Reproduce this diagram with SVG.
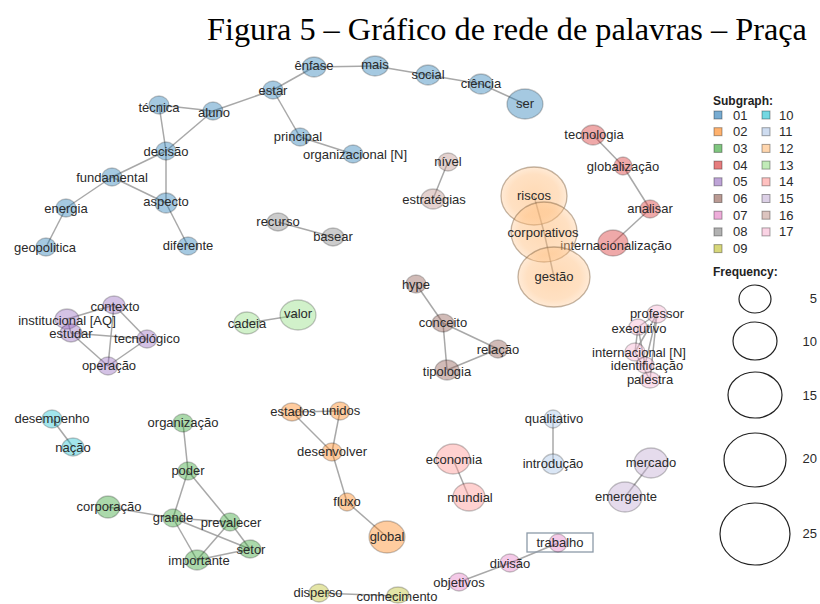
<svg xmlns="http://www.w3.org/2000/svg" width="820" height="604" viewBox="0 0 820 604">
<style>
.n ellipse{stroke:#000;stroke-opacity:.22;stroke-width:1.3}
.n text,.lg text{font-family:"Liberation Sans",Arial,sans-serif;font-size:13px;fill:#2a2a2a;text-anchor:middle}
.lg text{text-anchor:start}
.lg text.h{font-weight:bold;font-size:12px;fill:#222}
.lg text.f{text-anchor:end}
.lg rect{stroke:#000;stroke-opacity:.35;stroke-width:1}
.lg ellipse{fill:none;stroke:#222;stroke-width:1.2}
.edges line{stroke:#999;stroke-width:1.5;stroke-opacity:.85}
.title{font-family:"Liberation Serif","Times New Roman",serif;font-size:32.3px;fill:#000}
.c01 ellipse{fill:#1f77b4;fill-opacity:.4}
.c02 ellipse{fill:#ff7f0e;fill-opacity:.4}
.c03 ellipse{fill:#2ca02c;fill-opacity:.4}
.c04 ellipse{fill:#d62728;fill-opacity:.4}
.c05 ellipse{fill:#9467bd;fill-opacity:.4}
.c06 ellipse{fill:#8c564b;fill-opacity:.4}
.c07 ellipse{fill:#e377c2;fill-opacity:.4}
.c08 ellipse{fill:#7f7f7f;fill-opacity:.4}
.c09 ellipse{fill:#bcbd22;fill-opacity:.4}
.c10 ellipse{fill:#17becf;fill-opacity:.4}
.c11 ellipse{fill:#aec7e8;fill-opacity:.45}
.c12 ellipse{fill:url(#g12);stroke:#7a5a3a;stroke-opacity:.45}
.c13 ellipse{fill:#98df8a;fill-opacity:.45}
.c14 ellipse{fill:#ff9896;fill-opacity:.45}
.c15 ellipse{fill:#c5b0d5;fill-opacity:.45}
.c16 ellipse{fill:#c49c94;fill-opacity:.45}
.c17 ellipse{fill:#f7b6d2;fill-opacity:.45}
</style>
<defs>
<radialGradient id="g12" cx="50%" cy="50%" r="50%">
<stop offset="0" stop-color="#ffbb78" stop-opacity=".55"/>
<stop offset="0.75" stop-color="#ffbb78" stop-opacity=".45"/>
<stop offset="1" stop-color="#ffbb78" stop-opacity=".3"/>
</radialGradient>
</defs>
<rect width="820" height="604" fill="#fff"/>
<text class="title" x="207" y="40">Figura 5 – Gráfico de rede de palavras – Praça</text>

<g id="connectors" class="edges">
<line x1="159" y1="105" x2="213" y2="111"/>
<line x1="159" y1="105" x2="166" y2="151"/>
<line x1="213" y1="111" x2="166" y2="151"/>
<line x1="213" y1="111" x2="273" y2="90"/>
<line x1="273" y1="90" x2="314" y2="67"/>
<line x1="273" y1="90" x2="300" y2="137"/>
<line x1="314" y1="67" x2="375" y2="66"/>
<line x1="375" y1="66" x2="428" y2="75"/>
<line x1="428" y1="75" x2="481" y2="84"/>
<line x1="481" y1="84" x2="525" y2="104"/>
<line x1="300" y1="137" x2="353" y2="154"/>
<line x1="166" y1="151" x2="112" y2="177"/>
<line x1="166" y1="151" x2="166" y2="203"/>
<line x1="112" y1="177" x2="166" y2="203"/>
<line x1="112" y1="177" x2="66" y2="208"/>
<line x1="66" y1="208" x2="46" y2="247"/>
<line x1="166" y1="203" x2="188" y2="246"/>
<line x1="292" y1="412" x2="340" y2="411"/>
<line x1="292" y1="412" x2="332" y2="452"/>
<line x1="340" y1="411" x2="332" y2="452"/>
<line x1="332" y1="452" x2="347" y2="502"/>
<line x1="347" y1="502" x2="387" y2="537"/>
<line x1="183" y1="423" x2="188" y2="471"/>
<line x1="188" y1="471" x2="173" y2="518"/>
<line x1="188" y1="471" x2="230" y2="522"/>
<line x1="108" y1="507" x2="173" y2="518"/>
<line x1="173" y1="518" x2="230" y2="522"/>
<line x1="173" y1="518" x2="250" y2="549"/>
<line x1="173" y1="518" x2="197" y2="560"/>
<line x1="230" y1="522" x2="197" y2="560"/>
<line x1="230" y1="522" x2="250" y2="549"/>
<line x1="197" y1="560" x2="250" y2="549"/>
<line x1="593" y1="135" x2="623" y2="166"/>
<line x1="623" y1="166" x2="650" y2="209"/>
<line x1="650" y1="209" x2="613" y2="243"/>
<line x1="114" y1="305" x2="67" y2="319"/>
<line x1="114" y1="305" x2="147" y2="339"/>
<line x1="114" y1="305" x2="108" y2="366"/>
<line x1="71" y1="333" x2="147" y2="339"/>
<line x1="71" y1="333" x2="108" y2="366"/>
<line x1="108" y1="366" x2="147" y2="339"/>
<line x1="67" y1="319" x2="71" y2="333"/>
<line x1="416" y1="284" x2="443" y2="323"/>
<line x1="443" y1="323" x2="498" y2="349"/>
<line x1="443" y1="323" x2="447" y2="370"/>
<line x1="447" y1="370" x2="498" y2="349"/>
<line x1="558" y1="543" x2="510" y2="563"/>
<line x1="510" y1="563" x2="459" y2="582"/>
<line x1="278" y1="222" x2="333" y2="237"/>
<line x1="319" y1="593" x2="398" y2="596"/>
<line x1="52" y1="419" x2="73" y2="447"/>
<line x1="553" y1="419" x2="553" y2="464"/>
<line x1="534" y1="196" x2="544" y2="232"/>
<line x1="544" y1="232" x2="554" y2="277"/>
<line x1="247" y1="323" x2="298" y2="315"/>
<line x1="453" y1="459" x2="469" y2="497"/>
<line x1="651" y1="463" x2="625" y2="497"/>
<line x1="448" y1="162" x2="433" y2="199"/>
<line x1="657" y1="314" x2="638" y2="327"/>
<line x1="657" y1="314" x2="635" y2="352"/>
<line x1="657" y1="314" x2="650" y2="380"/>
<line x1="657" y1="314" x2="645" y2="365"/>
<line x1="638" y1="327" x2="635" y2="352"/>
<line x1="638" y1="327" x2="645" y2="365"/>
<line x1="635" y1="352" x2="650" y2="380"/>
</g>

<g id="n-tecnica" class="n c01"><ellipse cx="159" cy="105" rx="10" ry="9"/><text x="159" y="112">técnica</text></g>
<g id="n-aluno" class="n c01"><ellipse cx="213" cy="111" rx="10" ry="9"/><text x="214" y="117">aluno</text></g>
<g id="n-estar" class="n c01"><ellipse cx="273" cy="90" rx="10" ry="9"/><text x="273" y="95">estar</text></g>
<g id="n-enfase" class="n c01"><ellipse cx="314" cy="67" rx="12" ry="10"/><text x="314" y="70">ênfase</text></g>
<g id="n-mais" class="n c01"><ellipse cx="375" cy="66" rx="13" ry="10"/><text x="375" y="69">mais</text></g>
<g id="n-social" class="n c01"><ellipse cx="428" cy="75" rx="12" ry="10"/><text x="428" y="79">social</text></g>
<g id="n-ciencia" class="n c01"><ellipse cx="481" cy="84" rx="12" ry="10"/><text x="481" y="88">ciência</text></g>
<g id="n-ser" class="n c01"><ellipse cx="525" cy="104" rx="18" ry="15"/><text x="525" y="108">ser</text></g>
<g id="n-principal" class="n c01"><ellipse cx="300" cy="137" rx="10" ry="9"/><text x="298" y="141">principal</text></g>
<g id="n-organizacional" class="n c01"><ellipse cx="353" cy="154" rx="10" ry="9"/><text x="355" y="159">organizacional [N]</text></g>
<g id="n-decisao" class="n c01"><ellipse cx="166" cy="151" rx="10" ry="9"/><text x="166" y="156">decisão</text></g>
<g id="n-fundamental" class="n c01"><ellipse cx="112" cy="177" rx="10" ry="9"/><text x="112" y="182">fundamental</text></g>
<g id="n-aspecto" class="n c01"><ellipse cx="166" cy="203" rx="11" ry="10"/><text x="166" y="206">aspecto</text></g>
<g id="n-energia" class="n c01"><ellipse cx="66" cy="208" rx="10" ry="9"/><text x="66" y="213">energia</text></g>
<g id="n-geopolitica" class="n c01"><ellipse cx="46" cy="247" rx="10" ry="9"/><text x="45" y="252">geopolitica</text></g>
<g id="n-diferente" class="n c01"><ellipse cx="188" cy="246" rx="10" ry="9"/><text x="188" y="250">diferente</text></g>

<g id="n-estados" class="n c02"><ellipse cx="292" cy="412" rx="11" ry="9"/><text x="293" y="416">estados</text></g>
<g id="n-unidos" class="n c02"><ellipse cx="340" cy="411" rx="10" ry="9"/><text x="341" y="415">unidos</text></g>
<g id="n-desenvolver" class="n c02"><ellipse cx="332" cy="452" rx="10" ry="9"/><text x="332" y="456">desenvolver</text></g>
<g id="n-fluxo" class="n c02"><ellipse cx="347" cy="502" rx="9" ry="9"/><text x="347" y="506">fluxo</text></g>
<g id="n-global" class="n c02"><ellipse cx="387" cy="537" rx="18" ry="16"/><text x="387" y="541">global</text></g>

<g id="n-organizacao" class="n c03"><ellipse cx="183" cy="423" rx="10" ry="9"/><text x="183" y="427">organização</text></g>
<g id="n-poder" class="n c03"><ellipse cx="188" cy="471" rx="10" ry="9"/><text x="188" y="475">poder</text></g>
<g id="n-corporacao" class="n c03"><ellipse cx="108" cy="507" rx="12" ry="11"/><text x="109" y="511">corporação</text></g>
<g id="n-grande" class="n c03"><ellipse cx="173" cy="518" rx="10" ry="9"/><text x="173" y="522">grande</text></g>
<g id="n-prevalecer" class="n c03"><ellipse cx="230" cy="522" rx="10" ry="9"/><text x="231" y="527">prevalecer</text></g>
<g id="n-setor" class="n c03"><ellipse cx="250" cy="549" rx="11" ry="9"/><text x="251" y="554">setor</text></g>
<g id="n-importante" class="n c03"><ellipse cx="197" cy="560" rx="12" ry="10"/><text x="199" y="565">importante</text></g>

<g id="n-tecnologia" class="n c04"><ellipse cx="593" cy="135" rx="12" ry="10"/><text x="594" y="139">tecnologia</text></g>
<g id="n-globalizacao" class="n c04"><ellipse cx="623" cy="166" rx="9" ry="9"/><text x="623" y="171">globalização</text></g>
<g id="n-analisar" class="n c04"><ellipse cx="650" cy="209" rx="10" ry="9"/><text x="650" y="213">analisar</text></g>
<g id="n-internacionalizacao" class="n c04"><ellipse cx="613" cy="243" rx="15" ry="13"/><text x="616" y="250">internacionalização</text></g>

<g id="n-contexto" class="n c05"><ellipse cx="114" cy="305" rx="11" ry="9"/><text x="115" y="311">contexto</text></g>
<g id="n-institucional" class="n c05"><ellipse cx="67" cy="319" rx="12" ry="10"/><text x="67" y="325">institucional [AQ]</text></g>
<g id="n-estudar" class="n c05"><ellipse cx="71" cy="333" rx="11" ry="9"/><text x="71" y="338">estudar</text></g>
<g id="n-tecnologico" class="n c05"><ellipse cx="147" cy="339" rx="10" ry="9"/><text x="147" y="343">tecnológico</text></g>
<g id="n-operacao" class="n c05"><ellipse cx="108" cy="366" rx="10" ry="9"/><text x="109" y="370">operação</text></g>

<g id="n-hype" class="n c06"><ellipse cx="416" cy="284" rx="10" ry="9"/><text x="416" y="289">hype</text></g>
<g id="n-conceito" class="n c06"><ellipse cx="443" cy="323" rx="11" ry="9"/><text x="443" y="327">conceito</text></g>
<g id="n-relacao" class="n c06"><ellipse cx="498" cy="349" rx="10" ry="9"/><text x="498" y="354">relação</text></g>
<g id="n-tipologia" class="n c06"><ellipse cx="447" cy="370" rx="12" ry="10"/><text x="447" y="376">tipologia</text></g>

<g id="n-trabalho" class="n c07"><rect x="527" y="533" width="66" height="19" fill="none" stroke="#8c9aa8" stroke-width="1.3"/><ellipse cx="558" cy="543" rx="9" ry="9"/><text x="560" y="547">trabalho</text></g>
<g id="n-divisao" class="n c07"><ellipse cx="510" cy="563" rx="10" ry="9"/><text x="510" y="568">divisão</text></g>
<g id="n-objetivos" class="n c07"><ellipse cx="459" cy="582" rx="10" ry="9"/><text x="459" y="587">objetivos</text></g>

<g id="n-recurso" class="n c08"><ellipse cx="278" cy="222" rx="11" ry="9"/><text x="278" y="226">recurso</text></g>
<g id="n-basear" class="n c08"><ellipse cx="333" cy="237" rx="11" ry="9"/><text x="333" y="241">basear</text></g>

<g id="n-disperso" class="n c09"><ellipse cx="319" cy="593" rx="10" ry="9"/><text x="318" y="597">disperso</text></g>
<g id="n-conhecimento" class="n c09"><ellipse cx="398" cy="595" rx="11" ry="8"/><text x="397" y="601">conhecimento</text></g>

<g id="n-desempenho" class="n c10"><ellipse cx="52" cy="419" rx="10" ry="9"/><text x="52" y="423">desempenho</text></g>
<g id="n-nacao" class="n c10"><ellipse cx="73" cy="447" rx="11" ry="9"/><text x="73" y="452">nação</text></g>

<g id="n-qualitativo" class="n c11"><ellipse cx="553" cy="419" rx="9" ry="9"/><text x="554" y="423">qualitativo</text></g>
<g id="n-introducao" class="n c11"><ellipse cx="553" cy="464" rx="11" ry="10"/><text x="553" y="468">introdução</text></g>

<g id="n-riscos" class="n c12"><ellipse cx="534" cy="196" rx="33" ry="29"/><text x="534" y="200">riscos</text></g>
<g id="n-corporativos" class="n c12"><ellipse cx="544" cy="232" rx="33" ry="30"/><text x="543" y="237">corporativos</text></g>
<g id="n-gestao" class="n c12"><ellipse cx="554" cy="277" rx="36" ry="30"/><text x="554" y="281">gestão</text></g>

<g id="n-cadeia" class="n c13"><ellipse cx="247" cy="323" rx="13" ry="11"/><text x="247" y="328">cadeia</text></g>
<g id="n-valor" class="n c13"><ellipse cx="298" cy="315" rx="18" ry="15"/><text x="298" y="318">valor</text></g>

<g id="n-economia" class="n c14"><ellipse cx="453" cy="459" rx="17" ry="15"/><text x="454" y="464">economia</text></g>
<g id="n-mundial" class="n c14"><ellipse cx="469" cy="497" rx="16" ry="14"/><text x="470" y="502">mundial</text></g>

<g id="n-mercado" class="n c15"><ellipse cx="651" cy="463" rx="17" ry="15"/><text x="651" y="467">mercado</text></g>
<g id="n-emergente" class="n c15"><ellipse cx="625" cy="497" rx="17" ry="15"/><text x="626" y="501">emergente</text></g>

<g id="n-nivel" class="n c16"><ellipse cx="448" cy="162" rx="10" ry="9"/><text x="448" y="166">nível</text></g>
<g id="n-estrategias" class="n c16"><ellipse cx="433" cy="199" rx="12" ry="10"/><text x="434" y="204">estratégias</text></g>

<g id="n-professor" class="n c17"><ellipse cx="657" cy="314" rx="10" ry="9"/><text x="657" y="318">professor</text></g>
<g id="n-executivo" class="n c17"><ellipse cx="638" cy="327" rx="9" ry="8"/><text x="639" y="333">executivo</text></g>
<g id="n-internacionalN" class="n c17"><ellipse cx="635" cy="352" rx="10" ry="9"/><text x="639" y="357">internacional [N]</text></g>
<g id="n-identificacao" class="n c17"><ellipse cx="645" cy="365" rx="9" ry="8"/><text x="647" y="370">identificação</text></g>
<g id="n-palestra" class="n c17"><ellipse cx="650" cy="380" rx="10" ry="8"/><text x="650" y="384">palestra</text></g>

<g id="legend" class="lg">
<text class="h" x="713" y="105">Subgraph:</text>
<rect x="714" y="111" width="8" height="8" fill="#78acd2"/><text x="733" y="119.5">01</text>
<rect x="714" y="127.7" width="8" height="8" fill="#ffb26e"/><text x="733" y="136.2">02</text>
<rect x="714" y="144.4" width="8" height="8" fill="#80c680"/><text x="733" y="152.9">03</text>
<rect x="714" y="161.1" width="8" height="8" fill="#e67d7e"/><text x="733" y="169.6">04</text>
<rect x="714" y="177.8" width="8" height="8" fill="#bea4d7"/><text x="733" y="186.3">05</text>
<rect x="714" y="194.5" width="8" height="8" fill="#ba9a93"/><text x="733" y="203">06</text>
<rect x="714" y="211.2" width="8" height="8" fill="#eeadda"/><text x="733" y="219.7">07</text>
<rect x="714" y="227.9" width="8" height="8" fill="#b2b2b2"/><text x="733" y="236.4">08</text>
<rect x="714" y="244.6" width="8" height="8" fill="#d7d77a"/><text x="733" y="253.1">09</text>
<rect x="762" y="111" width="8" height="8" fill="#74d8e2"/><text x="779" y="119.5">10</text>
<rect x="762" y="127.7" width="8" height="8" fill="#cedcf0"/><text x="779" y="136.2">11</text>
<rect x="762" y="144.4" width="8" height="8" fill="#ffd6ae"/><text x="779" y="152.9">12</text>
<rect x="762" y="161.1" width="8" height="8" fill="#c1ebb8"/><text x="779" y="169.6">13</text>
<rect x="762" y="177.8" width="8" height="8" fill="#ffc1c0"/><text x="779" y="186.3">14</text>
<rect x="762" y="194.5" width="8" height="8" fill="#dcd0e6"/><text x="779" y="203">15</text>
<rect x="762" y="211.2" width="8" height="8" fill="#dcc4bf"/><text x="779" y="219.7">16</text>
<rect x="762" y="227.9" width="8" height="8" fill="#fad3e4"/><text x="779" y="236.4">17</text>
<text class="h" x="713" y="276">Frequency:</text>
<ellipse cx="755" cy="299" rx="16" ry="14"/><text class="f" x="817" y="303">5</text>
<ellipse cx="755" cy="341" rx="22" ry="19"/><text class="f" x="817" y="346">10</text>
<ellipse cx="755" cy="395" rx="27" ry="23"/><text class="f" x="817" y="400">15</text>
<ellipse cx="755" cy="460" rx="31" ry="27"/><text class="f" x="817" y="463">20</text>
<ellipse cx="755" cy="534" rx="35" ry="31"/><text class="f" x="817" y="538">25</text>
</g>
</svg>
